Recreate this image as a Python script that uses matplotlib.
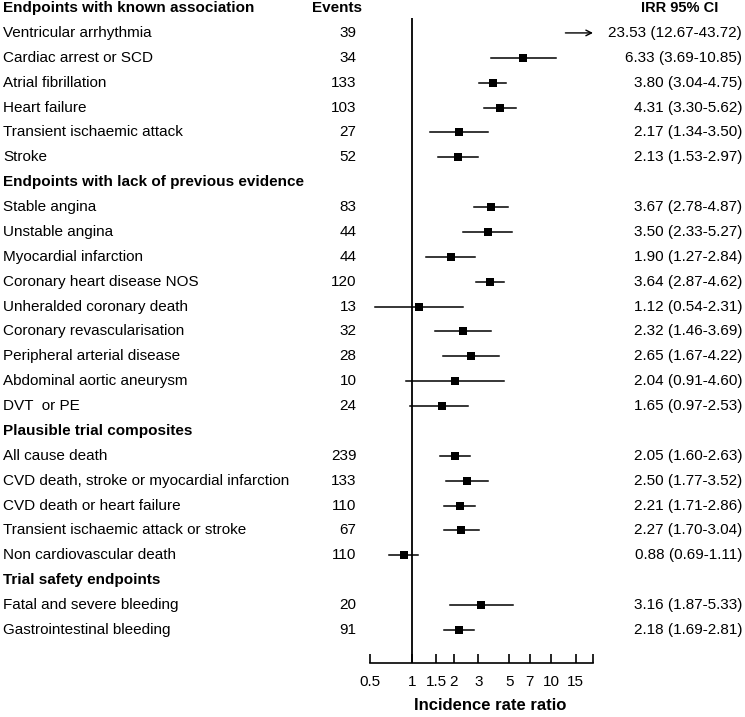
import numpy as np
import matplotlib.pyplot as plt
from matplotlib.transforms import blended_transform_factory

plt.rcParams['font.family'] = ['Liberation Sans', 'DejaVu Sans']

# section headers and how many endpoints fall under each
sections = ["Endpoints with known association",
            "Endpoints with lack of previous evidence",
            "Plausible trial composites",
            "Trial safety endpoints"]
section_sizes = [6, 9, 5, 2]

names = ["Ventricular arrhythmia", "Cardiac arrest or SCD", "Atrial fibrillation",
         "Heart failure", "Transient ischaemic attack", "Stroke",
         "Stable angina", "Unstable angina", "Myocardial infarction",
         "Coronary heart disease NOS", "Unheralded coronary death",
         "Coronary revascularisation", "Peripheral arterial disease",
         "Abdominal aortic aneurysm", "DVT  or PE",
         "All cause death", "CVD death, stroke or myocardial infarction",
         "CVD death or heart failure", "Transient ischaemic attack or stroke",
         "Non cardiovascular death",
         "Fatal and severe bleeding", "Gastrointestinal bleeding"]
events = [39, 34, 133, 103, 27, 52,
          83, 44, 44, 120, 13, 32, 28, 10, 24,
          239, 133, 110, 67, 110,
          20, 91]
irr = [23.53, 6.33, 3.80, 4.31, 2.17, 2.13,
       3.67, 3.50, 1.90, 3.64, 1.12, 2.32, 2.65, 2.04, 1.65,
       2.05, 2.50, 2.21, 2.27, 0.88,
       3.16, 2.18]
ci_low = [12.67, 3.69, 3.04, 3.30, 1.34, 1.53,
          2.78, 2.33, 1.27, 2.87, 0.54, 1.46, 1.67, 0.91, 0.97,
          1.60, 1.77, 1.71, 1.70, 0.69,
          1.87, 1.69]
ci_high = [43.72, 10.85, 4.75, 5.62, 3.50, 2.97,
           4.87, 5.27, 2.84, 4.62, 2.31, 3.69, 4.22, 4.60, 2.53,
           2.63, 3.52, 2.86, 3.04, 1.11,
           5.33, 2.81]

xticks = [0.5, 1, 1.5, 2, 3, 5, 7, 10, 15, 20]
xtick_labels = ['0.5', '1', '1.5', '2', '3', '5', '7', '10', '15', '']
xmin, xmax = 0.5, 20

W, H = 745, 717
fig = plt.figure(figsize=(W / 100, H / 100), dpi=100)
ax = fig.add_axes([370 / W, 54 / H, 223 / W, 645 / H])
ax.set_xscale('log')
ax.set_xlim(xmin, xmax)
ax.set_ylim(26.33, 0.4)

tr = blended_transform_factory(fig.transFigure, ax.transData)
fs = 11

# header row
ax.text(337 / W, 0, "Events", transform=tr, ha='center', va='center',
        fontsize=fs, fontweight='bold', clip_on=False)
ax.text(680 / W, 0, "IRR 95% CI", transform=tr, ha='center', va='center',
        fontsize=10.5, fontweight='bold', clip_on=False)

row = 0
i = 0
for sec, n in zip(sections, section_sizes):
    ax.text(3 / W, row, sec, transform=tr, ha='left', va='center',
            fontsize=fs, fontweight='bold', clip_on=False)
    row += 1
    for _ in range(n):
        ax.text(3 / W, row, names[i], transform=tr, ha='left', va='center',
                fontsize=fs, clip_on=False)
        ax.text(356.5 / W, row, str(events[i]), transform=tr, ha='right',
                va='center', fontsize=fs, clip_on=False)
        ax.text(742 / W, row, f"{irr[i]:.2f} ({ci_low[i]:.2f}-{ci_high[i]:.2f})",
                transform=tr, ha='right', va='center', fontsize=fs, clip_on=False)
        if irr[i] > xmax:
            # point estimate off the scale: arrow from lower CI to axis end
            ax.annotate("", xy=(xmax, row), xytext=(ci_low[i], row),
                        arrowprops=dict(arrowstyle='->', color='black', lw=1,
                                        shrinkA=0, shrinkB=0),
                        annotation_clip=False)
        else:
            ax.plot([ci_low[i], ci_high[i]], [row, row], color='black', lw=1.1,
                    clip_on=False)
            ax.plot(irr[i], row, marker='s', color='black', markersize=6.2,
                    markeredgewidth=0, clip_on=False)
        row += 1
        i += 1

ax.axvline(1, color='black', lw=1.3)

for s in ['top', 'right', 'left']:
    ax.spines[s].set_visible(False)
ax.spines['bottom'].set_linewidth(1.2)
ax.set_yticks([])
ax.set_xticks(xticks)
ax.set_xticklabels(xtick_labels, fontsize=fs)
ax.xaxis.set_minor_locator(plt.NullLocator())
ax.tick_params(axis='x', direction='in', length=6.5, width=1.2, pad=9)
ax.set_xlabel("Incidence rate ratio", fontsize=12, fontweight='bold')
ax.xaxis.set_label_coords((490 - 370) / 223, -(698 - 663) / 645)
ax.patch.set_visible(False)

fig.savefig('out.png', dpi=100)
